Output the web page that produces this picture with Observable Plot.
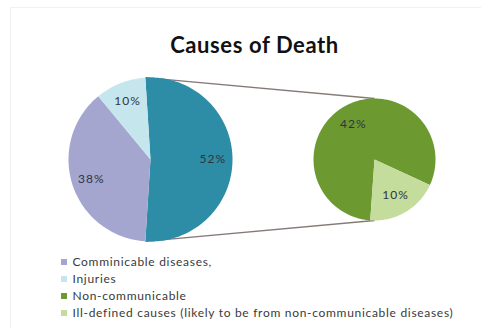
<!DOCTYPE html>
<html>
<head>
<meta charset="utf-8">
<script src="https://cdn.jsdelivr.net/npm/d3@7"></script>
<script src="https://cdn.jsdelivr.net/npm/@observablehq/plot@0.6"></script>
<style>
  html, body { margin: 0; padding: 0; background: #ffffff; }
  #chart { width: 481px; height: 328px; }
</style>
</head>
<body>
<div id="chart"></div>
<script>
// ---- data ----
const title = "Causes of Death";
const causes = [
  "Comminicable diseases,",
  "Injuries",
  "Non-communicable",
  "Ill-defined causes (likely to be from non-communicable diseases)"
];
const shares = [38, 10, 42, 10];                 // percent of all deaths
const inSecondPie = [false, false, true, true];  // split out into the small pie
const causeColors = ["#a5a6cf", "#c6e6ee", "#6c9a30", "#c4dc9c"];
const groupName = "Non-communicable (all)";
const groupColor = "#2d8ca6";

// ---- layout ----
const W = 481, H = 328;
const font = "Lato, 'Open Sans', 'DejaVu Sans', sans-serif";
const mainPie = { cx: 150, cy: 159, r: 82 };
const secondPie = { cx: 374, cy: 159, r: 61 };
const secondStart = 184;                          // degrees, clockwise from 12 o'clock

const total = d3.sum(shares);
const groupShare = d3.sum(shares.filter((_, i) => inSecondPie[i]));

const polar = (p, a, rr = p.r) => {
  const t = a * Math.PI / 180;
  return [p.cx + rr * Math.sin(t), p.cy - rr * Math.cos(t)];
};

const mainSlices = [
  { name: groupName, value: groupShare },
  ...causes.map((c, i) => ({ name: c, value: shares[i] })).filter((_, i) => !inSecondPie[i])
];
const secondSlices = causes.map((c, i) => ({ name: c, value: shares[i] })).filter((_, i) => inSecondPie[i]);

function layoutPie(slices, pie, start, sum, labelR) {
  let a = start;
  return slices.map(s => {
    const a0 = a, a1 = a + s.value / sum * 360;
    a = a1;
    return { ...s, a0, a1, pie, labelR };
  });
}

// the split slice is centred on 3 o'clock
const mainStart = 90 - groupShare / total * 180;
const arcs = [
  ...layoutPie(mainSlices, mainPie, mainStart, total, 0.76),
  ...layoutPie(secondSlices, secondPie, secondStart, groupShare, 0.68)
];

// each slice as a closed polygon: centre + points along its arc
const outline = arcs.flatMap((s, k) => {
  const n = Math.max(2, Math.ceil(s.a1 - s.a0));
  const pts = [[s.pie.cx, s.pie.cy]];
  for (let j = 0; j <= n; j++) pts.push(polar(s.pie, s.a0 + (s.a1 - s.a0) * j / n));
  return pts.map(([x, y]) => ({ x, y, key: k, name: s.name }));
});

const labels = arcs.map(s => {
  const [x, y] = polar(s.pie, (s.a0 + s.a1) / 2, s.pie.r * s.labelR);
  return { x, y, text: `${s.value}%` };
});

// connector lines from the split slice edges to the top and bottom of the small pie
const splitEnd = mainStart + groupShare / total * 360;
const connectors = [
  [polar(mainPie, mainStart), polar(secondPie, 0)],
  [polar(mainPie, splitEnd), polar(secondPie, 180)]
].map(([[x1, y1], [x2, y2]]) => ({ x1, y1, x2, y2 }));

const legend = causes.map((c, i) => ({ name: c, y: 262 + i * 17 }));

const chart = Plot.plot({
  width: W,
  height: H,
  margin: 0,
  x: { domain: [0, W], range: [0, W], axis: null },
  y: { domain: [0, H], range: [0, H], axis: null },
  color: { domain: [groupName, ...causes], range: [groupColor, ...causeColors] },
  style: { fontFamily: font, background: "#ffffff", overflow: "visible" },
  marks: [
    // chart area box with a faint edge
    Plot.rect([0], { x1: 10, x2: W + 2, y1: 7, y2: H + 2, fill: "#f1f1f1" }),
    Plot.rect([0], { x1: 11, x2: W + 2, y1: 8, y2: H + 2, fill: "#ffffff" }),
    Plot.text([title], {
      x: 254, y: 45, text: d => d, fontSize: 22, fontWeight: "bold", fill: "#111111"
    }),
    Plot.link(connectors, {
      x1: "x1", y1: "y1", x2: "x2", y2: "y2", stroke: "#867a76", strokeWidth: 1.4
    }),
    Plot.line(outline, {
      x: "x", y: "y", z: "key", fill: "name", stroke: null, curve: "linear-closed"
    }),
    Plot.text(labels, {
      x: "x", y: "y", text: "text", fontSize: 12, fill: "#2e3440"
    }),
    Plot.rect(legend, {
      x1: 61, x2: 67, y1: d => d.y - 3, y2: d => d.y + 3, fill: "name"
    }),
    Plot.text(legend, {
      x: 72, y: "y", text: "name", textAnchor: "start", fontSize: 12, fill: "#3a3a3a"
    })
  ]
});

// wider tracking for the three text layers: title, slice labels, legend
const spacing = [0.6, 1, 0.7];
d3.select(chart).selectAll('g[aria-label="text"]').each(function (_, i) {
  this.style.letterSpacing = `${spacing[i]}px`;
});

document.getElementById("chart").appendChild(chart);
</script>
</body>
</html>
